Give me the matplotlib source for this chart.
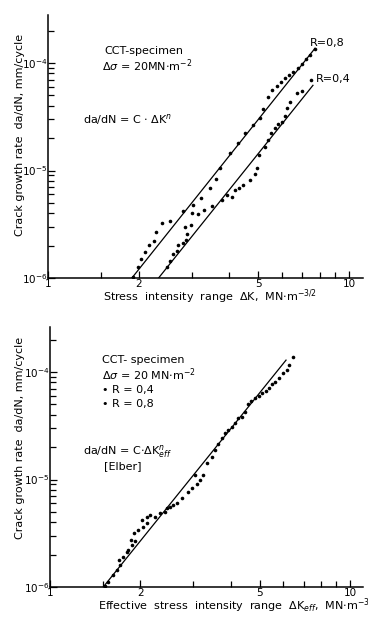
import numpy as np
import matplotlib.pyplot as plt
from matplotlib.ticker import FixedLocator, FixedFormatter, NullFormatter

plt.rcParams['font.family'] = ['DejaVu Sans']
plt.rcParams['mathtext.fontset'] = 'dejavusans'

# upper chart: da/dN over stress intensity range dK
k_r08 = [1.92, 1.99, 2.04, 2.10, 2.16, 2.25, 2.29, 2.39, 2.55, 2.81, 3.04, 3.22,
         3.45, 3.62, 3.73, 4.02, 4.29, 4.51, 4.81, 5.06, 5.18, 5.38, 5.55, 5.77,
         5.94, 6.13, 6.32, 6.52, 6.77, 6.98, 7.20, 7.42, 7.71]
v_r08 = [1.03e-6, 1.27e-6, 1.49e-6, 1.73e-6, 2.03e-6, 2.21e-6, 2.68e-6, 3.25e-6,
         3.41e-6, 4.20e-6, 4.78e-6, 5.51e-6, 6.92e-6, 8.34e-6, 1.05e-5, 1.45e-5,
         1.79e-5, 2.22e-5, 2.65e-5, 3.10e-5, 3.73e-5, 4.83e-5, 5.61e-5, 6.11e-5,
         6.66e-5, 7.25e-5, 7.73e-5, 8.25e-5, 8.98e-5, 9.79e-5, 1.09e-4, 1.19e-4,
         1.35e-4]
k_r04 = [2.48, 2.54, 2.60, 2.68, 2.71, 2.81, 2.87, 2.90, 2.85, 2.99, 3.02, 3.16,
         3.29, 3.50, 3.78, 3.92, 4.08, 4.18, 4.32, 4.46, 4.69, 4.87, 4.96, 5.04,
         5.26, 5.40, 5.51, 5.68, 5.83, 6.01, 6.13, 6.22, 6.37, 6.72, 6.98, 7.48]
v_r04 = [1.27e-6, 1.44e-6, 1.67e-6, 1.78e-6, 2.03e-6, 2.12e-6, 2.26e-6, 2.57e-6,
         2.98e-6, 3.11e-6, 4.02e-6, 3.94e-6, 4.25e-6, 4.71e-6, 5.32e-6, 5.92e-6,
         5.70e-6, 6.58e-6, 6.92e-6, 7.33e-6, 8.16e-6, 9.22e-6, 1.06e-5, 1.39e-5,
         1.66e-5, 1.92e-5, 2.23e-5, 2.46e-5, 2.71e-5, 2.83e-5, 3.21e-5, 3.81e-5,
         4.34e-5, 5.26e-5, 5.49e-5, 6.95e-5]
# fitted lines da/dN = C*dK^n (end points)
fit08_k = [1.90, 7.71]
fit08_v = [1.0e-6, 1.37e-4]
fit04_k = [2.33, 7.59]
fit04_v = [1.0e-6, 6.2e-5]

# lower chart: da/dN over effective range dK_eff (R=0.4 and R=0.8 together)
k_eff = [1.525, 1.564, 1.626, 1.669, 1.711, 1.698, 1.755, 1.802, 1.824, 1.873,
         1.862, 1.920, 1.910, 1.970, 2.021, 2.046, 2.101, 2.101, 2.154, 2.239,
         2.326, 2.416, 2.449, 2.512, 2.576, 2.645, 2.748, 2.891, 2.968, 3.083,
         3.162, 3.243, 3.043, 3.329, 3.459, 3.548, 3.639, 3.736, 3.831, 3.929,
         4.033, 4.137, 4.243, 4.355, 4.467, 4.581, 4.677, 4.823, 4.955, 5.089,
         5.228, 5.370, 5.516, 5.623, 5.811, 5.993, 6.180, 6.276, 6.471]
v_eff = [1.02e-6, 1.12e-6, 1.29e-6, 1.44e-6, 1.60e-6, 1.78e-6, 1.89e-6, 2.13e-6,
         2.21e-6, 2.46e-6, 2.74e-6, 2.70e-6, 3.16e-6, 3.39e-6, 4.20e-6, 3.64e-6,
         3.91e-6, 4.51e-6, 4.68e-6, 4.51e-6, 4.85e-6, 5.02e-6, 5.40e-6, 5.58e-6,
         5.79e-6, 6.01e-6, 6.68e-6, 7.60e-6, 8.39e-6, 9.02e-6, 9.89e-6, 1.10e-5,
         1.10e-5, 1.41e-5, 1.63e-5, 1.88e-5, 2.13e-5, 2.42e-5, 2.69e-5, 2.89e-5,
         3.10e-5, 3.33e-5, 3.71e-5, 3.84e-5, 4.27e-5, 5.04e-5, 5.37e-5, 5.73e-5,
         5.98e-5, 6.38e-5, 6.66e-5, 7.10e-5, 7.73e-5, 8.12e-5, 8.74e-5, 9.72e-5,
         1.04e-4, 1.16e-4, 1.37e-4]
fiteff_k = [1.505, 6.12]
fiteff_v = [1.0e-6, 1.29e-4]

xt_major = [1, 2, 5, 10]
xt_minor = [1.5, 3, 4, 6, 7, 8, 9]
yt_major = [1e-6, 1e-5, 1e-4]
yt_labels = ['$10^{-6}$', '$10^{-5}$', '$10^{-4}$']

W, H = 368, 619
FS = 8
fig = plt.figure(figsize=(W / 100, H / 100), dpi=100)


def px(x, y):
    return x / W, 1 - y / H


def make_axes(left, bottom, right, top, xdec, ydec):
    ax = fig.add_axes([left / W, 1 - bottom / H, (right - left) / W, (bottom - top) / H])
    ax.set_xscale('log')
    ax.set_yscale('log')
    ax.set_xlim(1, 10 ** ((right - left) / xdec))
    ax.set_ylim(1e-6, 10 ** (-6 + (bottom - top) / ydec))
    for s in ['top', 'right']:
        ax.spines[s].set_visible(False)
    for s in ['left', 'bottom']:
        ax.spines[s].set_linewidth(1.1)
    ax.xaxis.set_major_locator(FixedLocator(xt_major))
    ax.xaxis.set_major_formatter(FixedFormatter([str(v) for v in xt_major]))
    ax.xaxis.set_minor_locator(FixedLocator(xt_minor))
    ax.xaxis.set_minor_formatter(NullFormatter())
    ax.yaxis.set_major_locator(FixedLocator(yt_major))
    ax.yaxis.set_major_formatter(FixedFormatter(yt_labels))
    mins = [m * 10.0 ** e for e in (-6, -5, -4) for m in range(2, 10)]
    ax.yaxis.set_minor_locator(FixedLocator(mins))
    ax.yaxis.set_minor_formatter(NullFormatter())
    ax.tick_params(which='both', direction='in', width=0.9, labelsize=7.5, pad=0.5)
    ax.tick_params(which='major', length=5)
    ax.tick_params(which='minor', length=4)
    # arrow heads at the axis ends
    ax.plot(1, 0, '>k', ms=4, transform=ax.get_yaxis_transform(), clip_on=False)
    ax.plot(0, 1, '^k', ms=4, transform=ax.get_xaxis_transform(), clip_on=False)
    return ax


# --- upper chart ---
ax1 = make_axes(48, 278, 363, 15, 301, 107.5)
ax1.plot(fit08_k, fit08_v, 'k-', lw=0.9)
ax1.plot(fit04_k, fit04_v, 'k-', lw=0.9)
ax1.plot(k_r08, v_r08, 'ko', ms=2.6, mew=0)
ax1.plot(k_r04, v_r04, 'ko', ms=2.6, mew=0)

fig.text(*px(20, 135), 'Crack growth rate  da/dN, mm/cycle', rotation=90,
         ha='center', va='center', fontsize=FS)
fig.text(*px(210, 297), r'Stress  intensity  range  $\Delta$K,  MN$\cdot$m$^{-3/2}$',
         ha='center', va='center', fontsize=FS)
fig.text(*px(104, 51), 'CCT-specimen', va='center', fontsize=FS)
fig.text(*px(102, 66), r'$\Delta\sigma$ = 20MN$\cdot$m$^{-2}$', va='center', fontsize=FS)
fig.text(*px(83, 120), r'da/dN = C $\cdot$ $\Delta$K$^{n}$', va='center', fontsize=FS)
fig.text(*px(310, 43), 'R=0,8', va='center', fontsize=FS)
fig.text(*px(316, 79), 'R=0,4', va='center', fontsize=FS)

# --- lower chart ---
ax2 = make_axes(50, 587, 363, 327, 300, 107.5)
ax2.plot(fiteff_k, fiteff_v, 'k-', lw=0.9)
ax2.plot(k_eff, v_eff, 'ko', ms=2.6, mew=0)

fig.text(*px(20, 438), 'Crack growth rate  da/dN, mm/cycle', rotation=90,
         ha='center', va='center', fontsize=FS)
fig.text(*px(98, 606),
         r'Effective  stress  intensity  range  $\Delta$K$_{eff}$,  MN$\cdot$m$^{-3/2}$',
         va='center', fontsize=FS)
fig.text(*px(102, 360), 'CCT- specimen', va='center', fontsize=FS)
fig.text(*px(102, 375), r'$\Delta\sigma$ = 20 MN$\cdot$m$^{-2}$', va='center', fontsize=FS)
fig.text(*px(102, 390), '\u2022 R = 0,4', va='center', fontsize=FS)
fig.text(*px(102, 404), '\u2022 R = 0,8', va='center', fontsize=FS)
fig.text(*px(83, 451), r'da/dN = C$\cdot\Delta$K$_{eff}^{n}$', va='center', fontsize=FS)
fig.text(*px(104, 466), '[Elber]', va='center', fontsize=FS)

fig.savefig('out.png', dpi=100)
